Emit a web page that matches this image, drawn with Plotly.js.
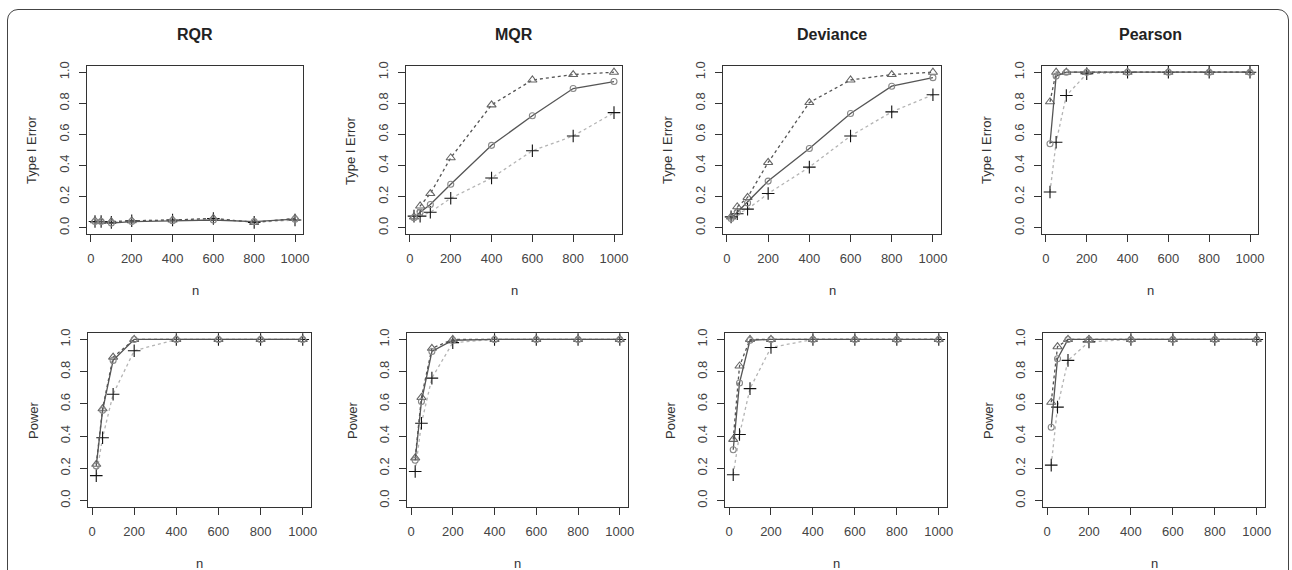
<!DOCTYPE html>
<html>
<head>
<meta charset="utf-8">
<script src="https://cdn.plot.ly/plotly-3.0.1.min.js"></script>
<style>
  html, body { margin: 0; padding: 0; background: #fff; width: 1292px; height: 570px; overflow: hidden; }
  #frame { position: absolute; left: 7px; top: 9px; width: 1282px; height: 620px; border: 1.5px solid #444; border-radius: 11px; box-sizing: border-box; }
  #chart { position: absolute; left: 0; top: 0; width: 1292px; height: 570px; }
</style>
</head>
<body>
<div id="frame"></div>
<div id="chart"></div>
<script>
// ---------- data ----------
const nValues = [20, 50, 100, 200, 400, 600, 800, 1000];
const panelTitles = ["RQR", "MQR", "Deviance", "Pearson"];
const rowLabels = ["Type I Error", "Power"];
const xTickVals = [0, 200, 400, 600, 800, 1000];
const yTickVals = [0, 0.2, 0.4, 0.6, 0.8, 1.0];
const yTickText = ["0.0", "0.2", "0.4", "0.6", "0.8", "1.0"];

// Type I error (row 1): circle = solid, triangle = dashed, plus = dotted
const typeI_RQR_circle   = [0.04, 0.04, 0.03, 0.04, 0.045, 0.05, 0.04, 0.055];
const typeI_RQR_triangle = [0.045, 0.04, 0.04, 0.045, 0.05, 0.06, 0.035, 0.06];
const typeI_RQR_plus     = [0.04, 0.04, 0.035, 0.045, 0.05, 0.06, 0.035, 0.05];

const typeI_MQR_circle   = [0.065, 0.10, 0.15, 0.28, 0.53, 0.72, 0.895, 0.94];
const typeI_MQR_triangle = [0.07, 0.14, 0.22, 0.45, 0.79, 0.95, 0.985, 1.0];
const typeI_MQR_plus     = [0.075, 0.075, 0.10, 0.19, 0.32, 0.495, 0.59, 0.74];

const typeI_Dev_circle   = [0.06, 0.10, 0.16, 0.30, 0.51, 0.735, 0.91, 0.965];
const typeI_Dev_triangle = [0.07, 0.135, 0.195, 0.42, 0.805, 0.95, 0.985, 1.0];
const typeI_Dev_plus     = [0.07, 0.09, 0.12, 0.22, 0.39, 0.59, 0.745, 0.855];

const typeI_Pea_circle   = [0.54, 0.975, 1.0, 1.0, 1.0, 1.0, 1.0, 1.0];
const typeI_Pea_triangle = [0.81, 1.0, 1.0, 1.0, 1.0, 1.0, 1.0, 1.0];
const typeI_Pea_plus     = [0.23, 0.55, 0.85, 0.99, 1.0, 1.0, 1.0, 1.0];

// Power (row 2)
const power_RQR_circle   = [0.215, 0.56, 0.87, 1.0, 1.0, 1.0, 1.0, 1.0];
const power_RQR_triangle = [0.225, 0.57, 0.89, 1.0, 1.0, 1.0, 1.0, 1.0];
const power_RQR_plus     = [0.155, 0.39, 0.66, 0.93, 1.0, 1.0, 1.0, 1.0];

const power_MQR_circle   = [0.25, 0.615, 0.925, 0.995, 1.0, 1.0, 1.0, 1.0];
const power_MQR_triangle = [0.265, 0.64, 0.945, 1.0, 1.0, 1.0, 1.0, 1.0];
const power_MQR_plus     = [0.18, 0.48, 0.76, 0.98, 1.0, 1.0, 1.0, 1.0];

const power_Dev_circle   = [0.315, 0.73, 0.995, 1.0, 1.0, 1.0, 1.0, 1.0];
const power_Dev_triangle = [0.38, 0.835, 1.0, 1.0, 1.0, 1.0, 1.0, 1.0];
const power_Dev_plus     = [0.16, 0.41, 0.695, 0.95, 1.0, 1.0, 1.0, 1.0];

const power_Pea_circle   = [0.455, 0.88, 1.0, 1.0, 1.0, 1.0, 1.0, 1.0];
const power_Pea_triangle = [0.61, 0.955, 1.0, 1.0, 1.0, 1.0, 1.0, 1.0];
const power_Pea_plus     = [0.22, 0.58, 0.87, 0.985, 1.0, 1.0, 1.0, 1.0];

// ---------- layout helpers ----------
const W = 1292, H = 570;
const panels = [
  {c: typeI_RQR_circle, t: typeI_RQR_triangle, p: typeI_RQR_plus, box: [87, 303, 66, 234], row: 0, col: 0},
  {c: typeI_MQR_circle, t: typeI_MQR_triangle, p: typeI_MQR_plus, box: [406, 622, 66, 234], row: 0, col: 1},
  {c: typeI_Dev_circle, t: typeI_Dev_triangle, p: typeI_Dev_plus, box: [723, 941, 66, 234], row: 0, col: 2},
  {c: typeI_Pea_circle, t: typeI_Pea_triangle, p: typeI_Pea_plus, box: [1042, 1258, 66, 234], row: 0, col: 3},
  {c: power_RQR_circle, t: power_RQR_triangle, p: power_RQR_plus, box: [88, 311, 333, 507], row: 1, col: 0},
  {c: power_MQR_circle, t: power_MQR_triangle, p: power_MQR_plus, box: [407, 628, 333, 507], row: 1, col: 1},
  {c: power_Dev_circle, t: power_Dev_triangle, p: power_Dev_plus, box: [725, 947, 333, 507], row: 1, col: 2},
  {c: power_Pea_circle, t: power_Pea_triangle, p: power_Pea_plus, box: [1043, 1265, 333, 507], row: 1, col: 3}
];

const FONT = "Liberation Sans, Arial, sans-serif";
const TXT = "#333";
const traces = [];
const layout = {
  width: W, height: H,
  margin: {l: 0, r: 0, t: 0, b: 0},
  paper_bgcolor: "rgba(0,0,0,0)",
  plot_bgcolor: "#fff",
  showlegend: false,
  font: {family: FONT, color: TXT, size: 12},
  annotations: []
};

panels.forEach((pn, i) => {
  const k = i + 1;
  const xa = "x" + (k === 1 ? "" : k), ya = "y" + (k === 1 ? "" : k);
  const xKey = "xaxis" + (k === 1 ? "" : k), yKey = "yaxis" + (k === 1 ? "" : k);
  const [x0, x1, y0, y1] = pn.box;

  traces.push({
    x: nValues, y: pn.p, xaxis: xa, yaxis: ya, type: "scatter", mode: "lines+markers",
    line: {color: "#b4b4b4", width: 1.3, dash: "dot"},
    marker: {symbol: "cross-thin-open", size: 9, color: "#111", line: {color: "#111", width: 1.1}}
  });
  traces.push({
    x: nValues, y: pn.t, xaxis: xa, yaxis: ya, type: "scatter", mode: "lines+markers",
    line: {color: "#555", width: 1.3, dash: "3px,3px"},
    marker: {symbol: "triangle-up-open", size: 8, color: "#666", line: {color: "#666", width: 1.1}}
  });
  traces.push({
    x: nValues, y: pn.c, xaxis: xa, yaxis: ya, type: "scatter", mode: "lines+markers",
    line: {color: "#555", width: 1.3},
    marker: {symbol: "circle-open", size: 6, color: "#888", line: {color: "#888", width: 1.1}}
  });

  layout[xKey] = {
    domain: [x0 / W, x1 / W],
    anchor: ya,
    range: [-19.2, 1039.2],
    tickvals: xTickVals,
    ticks: "outside", ticklen: 7, tickwidth: 1, tickcolor: "#333",
    showline: true, mirror: true, linecolor: "#333", linewidth: 1.3,
    showgrid: false, zeroline: false,
    tickfont: {family: FONT, size: 13, color: "#444"},
    ticklabelstandoff: 5,
    fixedrange: true
  };
  layout[yKey] = {
    domain: [1 - y1 / H, 1 - y0 / H],
    anchor: xa,
    range: [-0.04, 1.04],
    tickvals: yTickVals, ticktext: yTickText,
    tickangle: -90,
    ticks: "outside", ticklen: 7, tickwidth: 1, tickcolor: "#333",
    showline: true, mirror: true, linecolor: "#333", linewidth: 1.3,
    showgrid: false, zeroline: false,
    tickfont: {family: FONT, size: 13, color: "#444"},
    ticklabelstandoff: 5,
    fixedrange: true
  };

  if (pn.row === 0) {
    layout.annotations.push({
      text: "<b>" + panelTitles[pn.col] + "</b>",
      xref: "paper", yref: "paper",
      x: (x0 + x1) / 2 / W, y: 1 - 35 / H,
      xanchor: "center", yanchor: "middle", showarrow: false,
      font: {family: FONT, size: 16, color: "#222"}
    });
  }
  layout.annotations.push({
    text: "n", xref: "paper", yref: "paper",
    x: (x0 + x1) / 2 / W, y: 1 - (pn.row === 0 ? 290 : 563) / H,
    xanchor: "center", yanchor: "middle", showarrow: false,
    font: {family: FONT, size: 13, color: TXT}
  });
  layout.annotations.push({
    text: rowLabels[pn.row], xref: "paper", yref: "paper",
    x: (x0 - 55) / W, y: 1 - ((y0 + y1) / 2) / H,
    xanchor: "center", yanchor: "middle", showarrow: false, textangle: -90,
    font: {family: FONT, size: 13, color: TXT}
  });
});

Plotly.newPlot("chart", traces, layout, {displayModeBar: false, staticPlot: true});
</script>
</body>
</html>
